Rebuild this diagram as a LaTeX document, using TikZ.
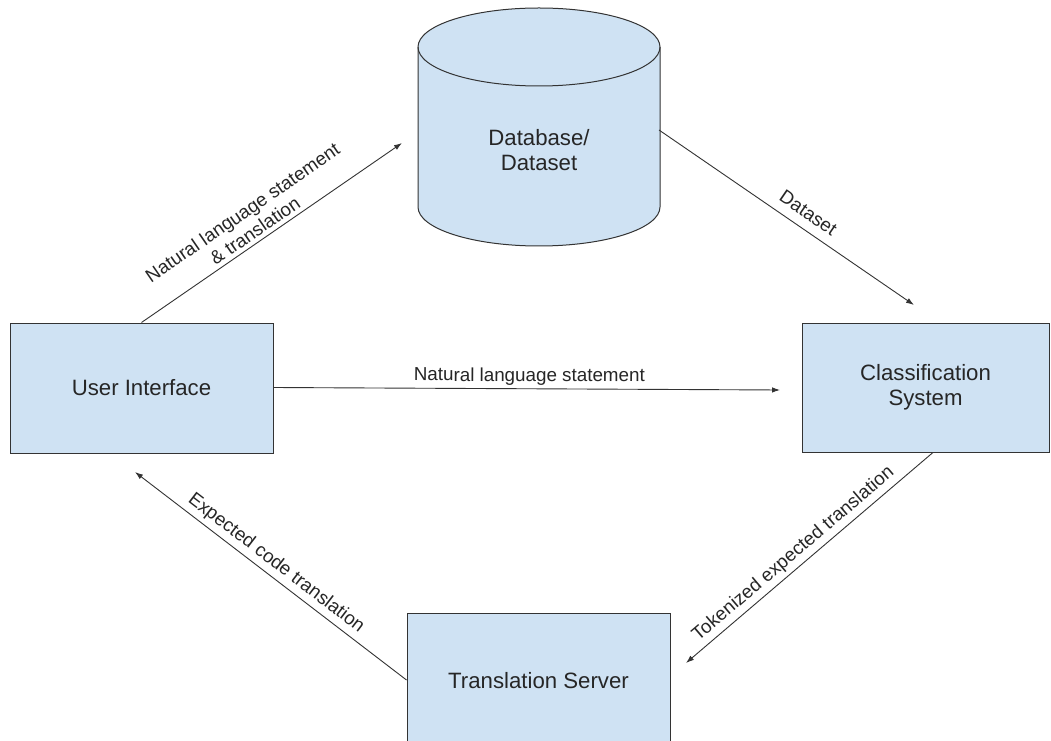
\documentclass[tikz,border=0pt]{standalone}
\usepackage{fontspec}
\setmainfont{Liberation Sans}
\usetikzlibrary{arrows.meta,calc}
\definecolor{boxfill}{HTML}{CFE2F3}
\definecolor{linec}{HTML}{333333}
\begin{document}
\begin{tikzpicture}[x=1pt,y=1pt,
  box/.style={draw=linec, line width=1pt, fill=boxfill, inner sep=0pt,
    align=center, font=\fontsize{22.2}{25.5}\selectfont, text=black!85},
  arr/.style={draw=linec, line width=0.9pt, -{Latex[length=8pt,width=5.5pt]}},
  arrr/.style={draw=linec, line width=0.9pt, {Latex[length=8pt,width=5.5pt]}-},
  lbl/.style={font=\fontsize{18.8}{22}\selectfont, text=black!85, sloped, above, inner sep=3pt, align=center}]
\useasboundingbox (0,0) rectangle (1051,740);
\clip (0,0) rectangle (1051,740);
\fill[white] (0,0) rectangle (1051,740);
% nodes
\node[box, minimum width=263pt, minimum height=130pt] (ui) at (141.5,352) {User Interface};
\node[box, minimum width=247pt, minimum height=129pt] (cs) at (925.5,352.5) {Classification\\System};
\node[box, minimum width=263pt, minimum height=136pt] (ts) at (538.5,59) {Translation Server};
% cylinder
\filldraw[draw=linec, line width=1pt, fill=boxfill]
  (418,693) -- (418,533) arc[start angle=180, end angle=360, x radius=121, y radius=39]
  -- (660,693) arc[start angle=0, end angle=180, x radius=121, y radius=39] -- cycle;
\draw[linec, line width=1pt] (418,693) arc[start angle=180, end angle=360, x radius=121, y radius=39];
\node[font=\fontsize{22.2}{25.5}\selectfont, text=black!85, align=center] (db) at (539,590) {Database/\\Dataset};
\coordinate (dbr) at (659,610);
% free ends
\coordinate (e1) at (402,597);
\coordinate (e2) at (914,435);
\coordinate (e3) at (780,350);
\coordinate (e4) at (686,77);
\coordinate (e5) at (135,268);
% connectors
\draw[arr] (ui.north) -- (e1) node[lbl, pos=0.46, inner sep=4pt] {Natural language statement\\\& translation};
\draw[arr] (dbr) -- (e2) node[lbl, pos=0.55, inner sep=9pt] {Dataset};
\draw[arr] (ui.east |- 0,352.5) -- (e3) node[lbl, pos=0.505] {Natural language statement};
\draw[arrr] (e4) -- ($(cs.south west)!0.530!(cs.south east)$) node[lbl, pos=0.47, inner sep=4pt] {Tokenized expected translation};
\draw[arrr] (e5) -- (ts.west |- 0,60) node[lbl, pos=0.49, inner sep=4pt] {Expected code translation};
\end{tikzpicture}
\end{document}
